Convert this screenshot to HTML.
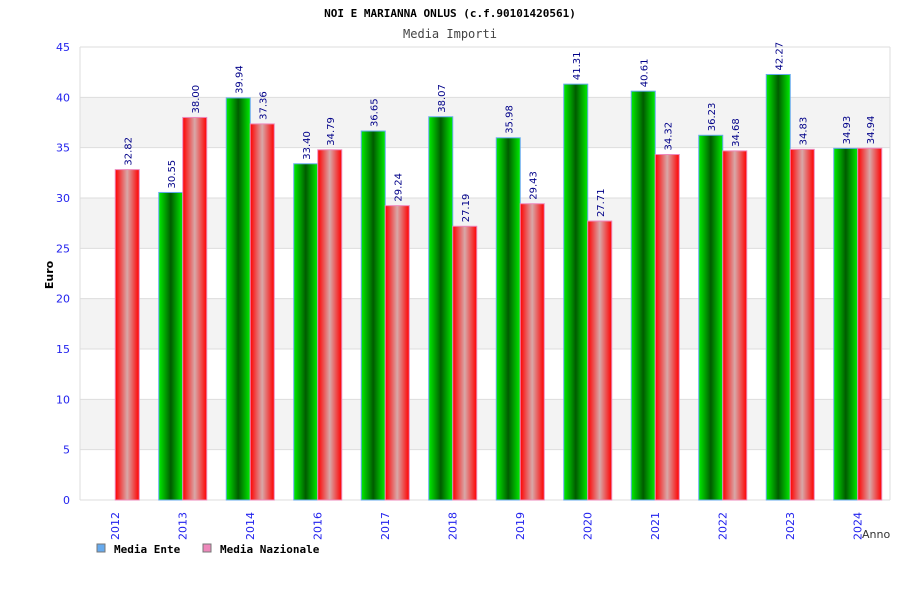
<!DOCTYPE html>
<html><head><meta charset="utf-8"><style>
body{margin:0;background:#fff}
text{font-family:"DejaVu Sans","Liberation Sans",sans-serif}
.mono{font-family:"DejaVu Sans Mono","Liberation Mono",monospace}
</style></head><body>
<svg id="c" width="900" height="600">
<defs>
<linearGradient id="gg" x1="0" x2="1"><stop offset="0" stop-color="#00ee00"/><stop offset="0.5" stop-color="#005c00"/><stop offset="1" stop-color="#00ee00"/></linearGradient>
<linearGradient id="rg" x1="0" x2="1"><stop offset="0" stop-color="#ff0000"/><stop offset="0.5" stop-color="#d8a8a8"/><stop offset="1" stop-color="#ff0000"/></linearGradient>
</defs>
<text class="mono" x="450" y="17" text-anchor="middle" font-size="11" font-weight="bold">NOI E MARIANNA ONLUS (c.f.90101420561)</text>
<text class="mono" x="450" y="38" text-anchor="middle" font-size="12" fill="#444">Media Importi</text>
<text transform="translate(53,275) rotate(-90)" text-anchor="middle" font-size="11" font-weight="bold">Euro</text>
<text x="862" y="538" font-size="11" fill="#333">Anno</text>
<g id="grid"></g><g id="bars"></g><g id="labels"></g>
<rect x="97" y="544" width="8" height="8" fill="#66aaee" stroke="#777"/>
<text class="mono" x="114" y="553" font-size="11" font-weight="bold">Media Ente</text>
<rect x="203" y="544" width="8" height="8" fill="#ee88bb" stroke="#777"/>
<text class="mono" x="220" y="553" font-size="11" font-weight="bold">Media Nazionale</text>
</svg>
<script>
const years=["2012","2013","2014","2016","2017","2018","2019","2020","2021","2022","2023","2024"];
const ente=[null,30.55,39.94,33.40,36.65,38.07,35.98,41.31,40.61,36.23,42.27,34.93];
const nazionale=[32.82,38.00,37.36,34.79,29.24,27.19,29.43,27.71,34.32,34.68,34.83,34.94];
const yTicks=[0,5,10,15,20,25,30,35,40,45];
const NS="http://www.w3.org/2000/svg";
const X0=80,X1=890,Y0=500,Y1=47,YMAX=45;
const y=v=>Y0-(v/YMAX)*(Y0-Y1);
const gw=(X1-X0)/years.length;
const xc=i=>X0+gw*(i+0.5);
function mk(tag,attrs,parent){const e=document.createElementNS(NS,tag);for(const k in attrs)e.setAttribute(k,attrs[k]);parent.appendChild(e);return e;}
const grid=document.getElementById('grid'),bars=document.getElementById('bars'),labels=document.getElementById('labels');
for(let t=0;t<yTicks.length-1;t++){
  if(t%2===1){const r=mk('rect',{x:X0,y:y(yTicks[t+1]),width:X1-X0,height:y(yTicks[t])-y(yTicks[t+1]),fill:'#f3f3f3'},grid);
  
  }
}
yTicks.forEach(v=>{
  const l=mk('line',{x1:X0,x2:X1,y1:y(v),y2:y(v),stroke:'#dddddd'},grid);
  
  
  const t=mk('text',{x:70,y:y(v)+4,'text-anchor':'end','font-size':11,fill:'#2222ee'},grid);
  t.textContent=v;
  
  
});
const ax=mk('line',{x1:X0,x2:X0,y1:Y1,y2:Y0,stroke:'#dddddd'},grid);


const ax2=mk('line',{x1:X1,x2:X1,y1:Y1,y2:Y0,stroke:'#dddddd'},grid);


const BW=24;
function bar(i,v,off,fill,stroke,name){
  if(v==null)return;
  const x=xc(i)+off;
  const r=mk('rect',{x:x,y:y(v),width:BW,height:Y0-y(v),fill:fill,stroke:stroke,'stroke-width':1},bars);
  
  
  const t=mk('text',{transform:`translate(${x+BW/2+4},${y(v)-4}) rotate(-90)`,'font-size':10,fill:'#000088'},labels);
  t.textContent=v.toFixed(2);
  
  
}
years.forEach((yr,i)=>{
  bar(i,ente[i],-22.5,'url(#gg)','#66aaee','bar-ente-'+yr);
  bar(i,nazionale[i],1.5,'url(#rg)','#ee88bb','bar-nazionale-'+yr);
  const t=mk('text',{transform:`translate(${xc(i)+5},${540}) rotate(-90)`,'font-size':11,fill:'#2222ee'},labels);
  t.textContent=yr;
  
  
});
</script>
</body></html>
